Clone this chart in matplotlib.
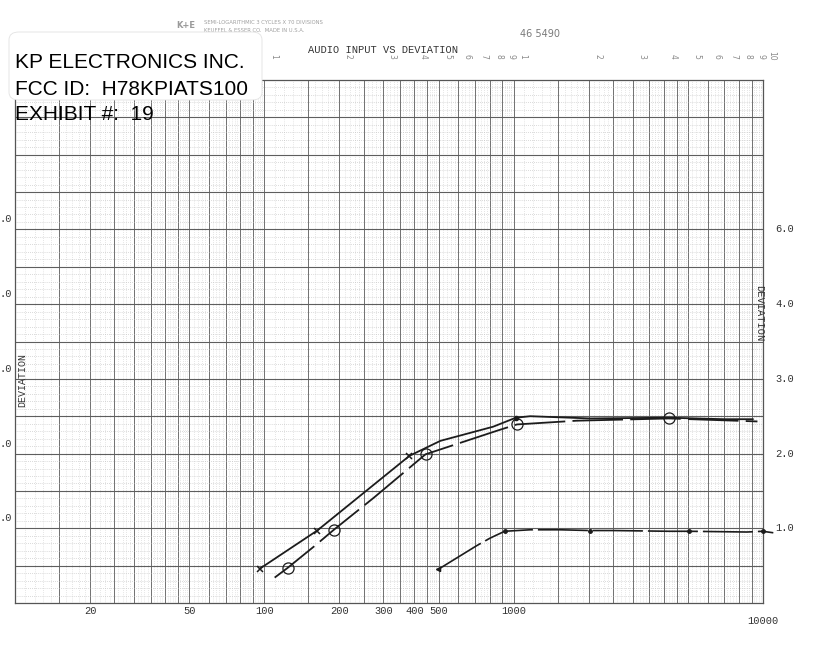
"""
Audio input vs deviation, redrawn from the scanned K+E semi-log sheet.
"""

import matplotlib

matplotlib.use("Agg")
import matplotlib.pyplot as plt
import matplotlib.transforms as mtransforms
from matplotlib.patches import FancyBboxPatch
import numpy as np

W, H = 823, 650

# upper curve, marked with x's
freq_a = [96, 163, 382, 508, 828, 1020, 1165, 2030, 4200, 7000, 9100]
dev_a = [0.46, 0.97, 1.97, 2.17, 2.36, 2.48, 2.50, 2.47, 2.48, 2.46, 2.46]

# second curve, marked with circles (drawn in long dashes)
freq_b = [110, 124, 160, 190, 275, 443, 865, 1031, 1790, 4200, 9500]
dev_b = [0.34, 0.47, 0.77, 0.98, 1.41, 1.99, 2.31, 2.39, 2.44, 2.47, 2.43]

# lower curve
freq_c = [498, 713, 806, 920, 1165, 1537, 2027, 2505, 4200, 5050, 8620, 9960, 11000]
dev_c = [0.45, 0.77, 0.87, 0.96, 0.98, 0.98, 0.97, 0.97, 0.96, 0.96, 0.95, 0.96, 0.94]

# typed axis labels
xtick_vals = [20, 50, 100, 200, 300, 400, 500, 1000, 10000]
xtick_text = ["20", "50", "100", "200", "300", "400", "500", "1000", "10000"]
ytick_vals = [5, 4, 3, 2, 1]
ytick_right = ["6.0", "4.0", "3.0", "2.0", "1.0"]
ytick_left = [".0", ".0", ".0", ".0", ".0"]

# printed cycle numbers along the top of the sheet
cycle_vals = [100, 200, 300, 400, 500, 600, 700, 800, 900,
              1000, 2000, 3000, 4000, 5000, 6000, 7000, 8000, 9000, 10000]
cycle_text = ["1", "2", "3", "4", "5", "6", "7", "8", "9",
              "1", "2", "3", "4", "5", "6", "7", "8", "9", "10"]

TYPE = "Liberation Mono"
INK = "#1c1c1c"


def fx(x: float) -> float:
    return x / W


def fy(y: float) -> float:
    return 1 - y / H


fig = plt.figure(figsize=(W / 100, H / 100), dpi=100)
fig.patch.set_facecolor("white")

ax = fig.add_axes([fx(15), fy(603), 748 / W, 523 / H])
ax.set_xscale("log")
ax.set_xlim(10, 10000)
ax.set_ylim(0, 7)
ax.set_xticks([])
ax.set_yticks([])
ax.minorticks_off()
for s in ax.spines.values():
    s.set_color("#555555")
    s.set_linewidth(0.9)

# paper rulings
solid_k = [1, 1.5, 2, 2.5, 3, 3.5, 4, 4.5, 5, 6, 7, 8, 9]
for d in [10, 100, 1000]:
    for k in solid_k:
        ax.axvline(d * k, color="#707070", lw=0.7, zorder=1)
    fine = list(np.arange(1.1, 5.0, 0.1)) + list(np.arange(5.2, 10.0, 0.2))
    for k in fine:
        if min(abs(k - s) for s in solid_k) > 0.01:
            ax.axvline(d * k, color="#cdcdcd", lw=0.5, ls=(0, (1, 2)), zorder=1)

for i in range(1, 70):
    v = i / 10
    if i % 5 == 0:
        ax.axhline(v, color="#5e5e5e", lw=0.8, zorder=1)
    else:
        ax.axhline(v, color="#b8b8b8", lw=0.5, ls=(0, (1, 2)), zorder=1)

# hand-drawn curves
ax.plot(freq_a, dev_a, color=INK, lw=1.3, zorder=3)
ax.plot([freq_a[i] for i in (0, 1, 2)], [dev_a[i] for i in (0, 1, 2)],
        ls="none", marker="x", ms=4, mew=1.1, color=INK, zorder=4)
ax.plot(freq_a[5], dev_a[5], ls="none", marker="o", ms=3, color=INK, zorder=4)

ax.plot(freq_b, dev_b, color=INK, lw=1.3, dashes=[28, 4], zorder=3)
circ = [1, 3, 5, 7, 9]
ax.plot([freq_b[i] for i in circ], [dev_b[i] for i in circ], ls="none",
        marker="o", ms=8, mfc="none", mew=0.9, color=INK, zorder=4)

ax.plot(freq_c, dev_c, color=INK, lw=1.2, dashes=[30, 3], zorder=3, clip_on=False)
dots = [3, 6, 9, 11]
ax.plot([freq_c[i] for i in dots], [dev_c[i] for i in dots], ls="none",
        marker="o", ms=2.5, color=INK, zorder=4, clip_on=False)
ax.plot(freq_c[0], dev_c[0], ls="none", marker="<", ms=3, color=INK, zorder=4)

# typed labels
bottom = mtransforms.blended_transform_factory(ax.transData, ax.transAxes)
for v, t in zip(xtick_vals, xtick_text):
    yoff = -0.035 if v == 10000 else -0.016
    ax.text(v, yoff, t, transform=bottom, ha="center", va="center",
            fontsize=7.5, family=TYPE, color="#333333")

right = mtransforms.blended_transform_factory(ax.transAxes, ax.transData)
for v, t in zip(ytick_vals, ytick_right):
    ax.text(1.016, v, t, transform=right, ha="left", va="center",
            fontsize=7.5, family=TYPE, color="#333333")

shift_up = mtransforms.ScaledTranslation(0, 10 / 100, fig.dpi_scale_trans)
for v, t in zip(ytick_vals, ytick_left):
    ax.text(-0.004, v, t, transform=right + shift_up, ha="right", va="center",
            fontsize=7.5, family=TYPE, color="#333333")

ax.text(fx(22), fy(380), "DEVIATION", transform=fig.transFigure, rotation=90,
        ha="center", va="center", fontsize=7.2, family=TYPE, color="#333333")
fig.text(fx(759), fy(313), "DEVIATION", rotation=270, ha="center", va="center",
         fontsize=7.5, family=TYPE, color="#333333")

top = mtransforms.blended_transform_factory(ax.transData, fig.transFigure)
nudge = mtransforms.ScaledTranslation(9 / 100, 0, fig.dpi_scale_trans)
for v, t in zip(cycle_vals, cycle_text):
    ax.text(v, fy(56), t, transform=top + nudge, rotation=-90, ha="center",
            va="center", fontsize=5.5, color="#8a8a8a", clip_on=False)

# header patch and company text
box = FancyBboxPatch((fx(9), fy(100)), fx(253), 68 / H, transform=fig.transFigure,
                     boxstyle="round,pad=0,rounding_size=0.012", facecolor="white",
                     edgecolor="#e2e2e2", lw=0.6, zorder=5)
fig.patches.append(box)

fig.text(fx(176), fy(26), "K+E", fontsize=6, color="#9a9a9a", family="DejaVu Sans",
         weight="bold", va="center")
fig.text(fx(204), fy(23), "SEMI-LOGARITHMIC 3 CYCLES X 70 DIVISIONS",
         fontsize=3.8, color="#a0a0a0", va="center")
fig.text(fx(204), fy(30), "KEUFFEL & ESSER CO.  MADE IN U.S.A.",
         fontsize=3.8, color="#a0a0a0", va="center")
fig.text(fx(520), fy(34), "46 5490", fontsize=7, family="DejaVu Sans",
         color="#7a7a7a", va="center")
fig.text(fx(308), fy(50), "AUDIO INPUT VS DEVIATION", fontsize=7.5, family=TYPE,
         color="#333333", va="center")

for y, line in [(68, "KP ELECTRONICS INC."), (95, "FCC ID:  H78KPIATS100"),
                (120, "EXHIBIT #:  19")]:
    fig.text(fx(15), fy(y), line, fontsize=15, family="Liberation Sans",
             color="black", va="baseline", zorder=6)

fig.savefig("out.png", dpi=100, facecolor="white")
